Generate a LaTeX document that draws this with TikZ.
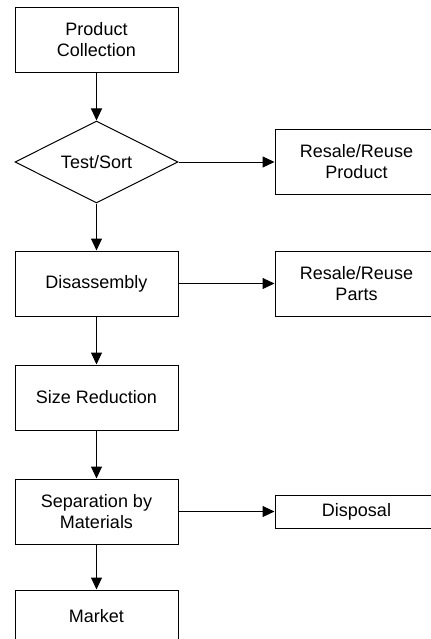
\documentclass[tikz,border=0pt]{standalone}
\usepackage{fontspec}
\setmainfont{Liberation Sans}
\usetikzlibrary{arrows.meta,shapes.geometric}
\tikzset{
	block/.style={draw, line width=0.75pt, minimum width=122.25pt, minimum height=48.75pt, inner sep=0pt, align=center, font=\fontsize{13.5}{15.75}\selectfont},
	decision/.style={draw, diamond, aspect=2, line width=0.75pt, minimum width=122.25pt, minimum height=61.5pt, inner sep=0pt, font=\fontsize{13.5}{15.75}\selectfont},
	arr/.style={line width=0.75pt, -{Triangle[length=9pt,width=8.25pt]}}
}

\begin{document}
\begin{tikzpicture}[x=0.75pt, y=-0.75pt]
			%%%%% START %%%%%
			
			\useasboundingbox (0, 0) rectangle (431, 639);
			\clip (0, 0) rectangle (431, 639);
			
			% main column
			\node[block] (collect) at (96.5, 40) {Product\\Collection};
			\node[decision] (sort) at (96.5, 162) {Test/Sort};
			\node[block] (disasm) at (96.5, 283.5) {Disassembly};
			\node[block] (reduce) at (96.5, 397.5) {Size Reduction};
			\node[block] (separate) at (96.5, 511.5) {Separation by\\Materials};
			\node[block, minimum height=39pt] (market) at (96.5, 616) {Market};
			
			% side outputs
			\node[block] (product) at (356.5, 162) {Resale/Reuse\\Product};
			\node[block] (parts) at (356.5, 283.5) {Resale/Reuse\\Parts};
			\node[block, minimum height=24.75pt] (disposal) at (356.5, 511.5) {Disposal};
			
			\draw[arr] (collect) -- (sort);
			\draw[arr] (sort) -- (disasm);
			\draw[arr] (disasm) -- (reduce);
			\draw[arr] (reduce) -- (separate);
			\draw[arr] (separate) -- (market);
			
			\draw[arr] (sort.east) -- (product.west);
			\draw[arr] (disasm.east) -- (parts.west);
			\draw[arr] (separate.east) -- (disposal.west);
			
			%%%%% END %%%%%
		\end{tikzpicture}
\end{document}
